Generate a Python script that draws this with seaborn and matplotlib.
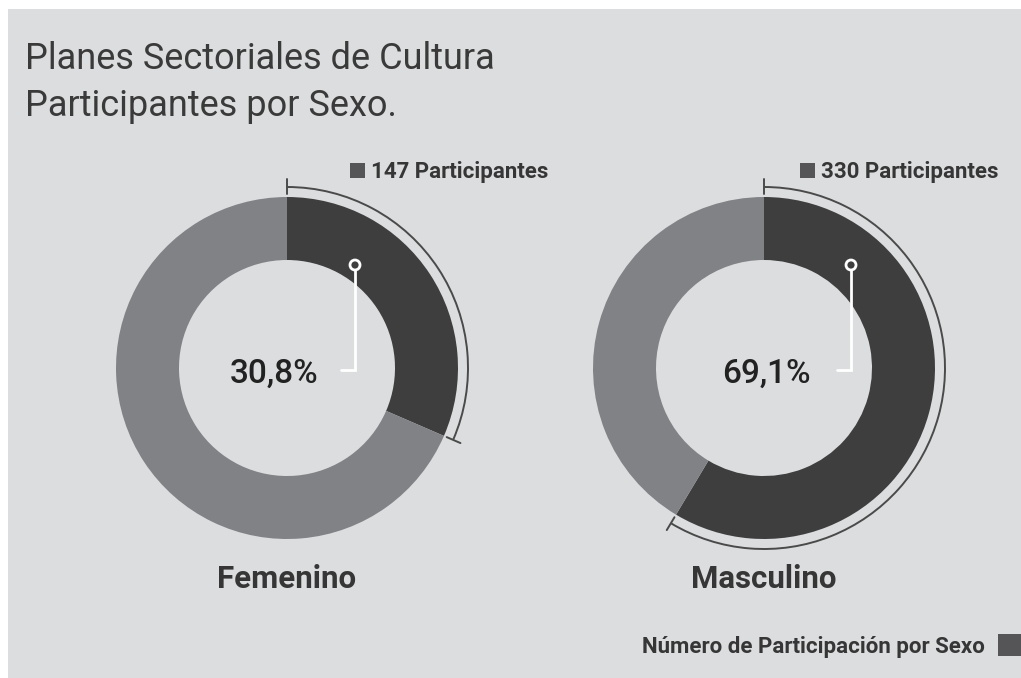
import seaborn as sns
import matplotlib.pyplot as plt
from matplotlib.patches import Arc, Rectangle, Circle
import numpy as np

# datos
sexos = ["Femenino", "Masculino"]
porcentajes = [30.8, 69.1]          # valores rotulados
porcion_dibujada = [31.5, 58.6]     # proporción que muestra el anillo en la imagen
participantes = [147, 330]
etiquetas_pct = ["30,8%", "69,1%"]

W, H = 1021, 678
oscuro = "#3e3e3e"
claro = "#818285"
fondo = "#dcdddf"
texto = "#363636"

sns.set_theme(style="white")
plt.rcParams['font.family'] = ['Roboto', 'DejaVu Sans']
colores = sns.color_palette([oscuro, claro])

fig = plt.figure(figsize=(W / 100, H / 100), dpi=100, facecolor="white")
ax = fig.add_axes([0, 0, 1, 1])

def y(p):
    return H - p

# panel gris
ax.add_patch(Rectangle((8, 0), W - 8, H - 9, facecolor=fondo, edgecolor="none", zorder=0))

# titulo
ax.text(25, y(69), "Planes Sectoriales de Cultura", fontsize=26, fontweight="normal",
        color="#3a3a3a", va="baseline", ha="left")
ax.text(25, y(116), "Participantes por Sexo.", fontsize=26, fontweight="normal",
        color="#3a3a3a", va="baseline", ha="left")

centros_x = [287, 764]
cy = 368
r_ext, r_int = 171, 108
r_arco = 181

for i, (cx, pct, n, lab, sexo) in enumerate(zip(centros_x, porcion_dibujada, participantes, etiquetas_pct, sexos)):
    ax.pie([pct, 100 - pct], colors=colores, startangle=90, counterclock=False,
           center=(cx, y(cy)), radius=r_ext,
           wedgeprops=dict(width=r_ext - r_int, edgecolor="none", linewidth=0))

    # arco de referencia
    ang_fin = 90 - pct * 3.6
    ax.add_patch(Arc((cx, y(cy)), 2 * r_arco, 2 * r_arco, theta1=ang_fin, theta2=90,
                     color="#4a4a4a", lw=1.4, zorder=3))
    for a in [90, ang_fin]:
        t = np.deg2rad(a)
        ax.plot([cx + (r_arco - 7) * np.cos(t), cx + (r_arco + 8) * np.cos(t)],
                [y(cy) + (r_arco - 7) * np.sin(t), y(cy) + (r_arco + 8) * np.sin(t)],
                color="#4a4a4a", lw=1.4, zorder=3)

    # marcador blanco
    mx = cx + 68 if i == 0 else cx + 87
    ax.plot([mx, mx, mx - 14], [y(270), y(370), y(370)], color="white", lw=2, zorder=4,
            solid_joinstyle="miter")
    ax.add_patch(Circle((mx, y(265)), 5, facecolor=oscuro, edgecolor="white", lw=2, zorder=5))

    # porcentaje
    ax.text(cx - 13 if i == 0 else cx + 2, y(370), lab, fontsize=24, fontweight="medium",
            color="#222222", ha="center", va="center_baseline")

    # nombre del sexo
    ax.text(cx, y(588), sexo, fontsize=22.5, fontweight="bold", color=texto,
            ha="center", va="baseline")

    # participantes
    tx = cx + 84 if i == 0 else cx + 57
    ax.add_patch(Rectangle((tx - 21, y(178)), 15, 15, facecolor="#555557", edgecolor="none"))
    ax.text(tx, y(178), f"{n} Participantes", fontsize=16, fontweight="bold",
            color=texto, ha="left", va="baseline")

# leyenda inferior
ax.text(985, y(653), "Número de Participación por Sexo", fontsize=16, fontweight="bold",
        color=texto, ha="right", va="baseline")
ax.add_patch(Rectangle((998, y(656)), 23, 22, facecolor="#555557", edgecolor="none"))

ax.set_xlim(0, W)
ax.set_ylim(0, H)
ax.set_aspect("auto")
ax.axis("off")

fig.savefig("out.png", dpi=100, facecolor="white")
